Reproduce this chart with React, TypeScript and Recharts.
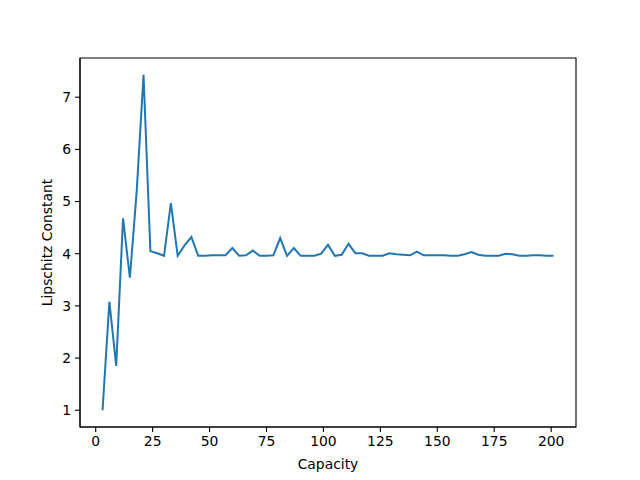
import React from 'react';
import { LineChart, Line, XAxis, YAxis, ReferenceArea } from 'recharts';

const capacity: number[] = [
  3, 6, 9, 12, 15, 18, 21, 24, 27, 30, 33, 36, 39, 42, 45, 48, 51, 54, 57, 60,
  63, 66, 69, 72, 75, 78, 81, 84, 87, 90, 93, 96, 99, 102, 105, 108, 111, 114, 117, 120,
  123, 126, 129, 132, 135, 138, 141, 144, 147, 150, 153, 156, 159, 162, 165, 168, 171, 174, 177, 180,
  183, 186, 189, 192, 195, 198, 201,
];

const lipschitz: number[] = [
  1.0, 3.08, 1.85, 4.68, 3.54, 5.2, 7.43, 4.05, 4.01, 3.96, 4.97, 3.96, 4.16, 4.32, 3.96, 3.96, 3.97, 3.97, 3.97, 4.11,
  3.96, 3.97, 4.06, 3.96, 3.96, 3.97, 4.3, 3.96, 4.11, 3.96, 3.96, 3.96, 4.0, 4.17, 3.96, 3.98, 4.19, 4.01, 4.01, 3.96,
  3.96, 3.96, 4.01, 3.99, 3.98, 3.97, 4.04, 3.97, 3.97, 3.97, 3.97, 3.96, 3.96, 3.99, 4.03, 3.98, 3.96, 3.96, 3.96, 4.0,
  3.99, 3.96, 3.96, 3.97, 3.97, 3.96, 3.96,
];

const xTicks: number[] = [0, 25, 50, 75, 100, 125, 150, 175, 200];
const yTicks: number[] = [1, 2, 3, 4, 5, 6, 7];

const X_DOMAIN: [number, number] = [-6.9, 210.9];
const Y_DOMAIN: [number, number] = [0.6785, 7.7515];

const data = capacity.map((c, i) => ({ capacity: c, value: lipschitz[i] }));

const FONT = "'DejaVu Sans', sans-serif";
const tickStyle = { fontFamily: FONT, fontSize: 13.9, fill: '#000' };

export default function App() {
  return (
    <div style={{ position: 'absolute', left: 0, top: 0, width: 640, height: 480, background: '#fff' }}>
      <LineChart
        width={640}
        height={480}
        data={data}
        margin={{ top: 58, right: 64, bottom: 0, left: 0 }}
      >
        <XAxis
          dataKey="capacity"
          type="number"
          domain={X_DOMAIN}
          ticks={xTicks}
          allowDataOverflow
          height={53}
          tick={tickStyle}
          tickSize={5}
          tickMargin={4}
          stroke="#000"
          tickLine={{ stroke: '#000', strokeWidth: 1.1 }}
          axisLine={{ stroke: '#000', strokeWidth: 1.1 }}
          label={{ value: 'Capacity', position: 'insideBottom', offset: 11, style: { fontFamily: FONT, fontSize: 13.9, fill: '#000' } }}
        />
        <YAxis
          type="number"
          domain={Y_DOMAIN}
          ticks={yTicks}
          allowDataOverflow
          width={80}
          tick={tickStyle}
          tickSize={5}
          tickMargin={4}
          tickLine={{ stroke: '#000', strokeWidth: 1.1 }}
          axisLine={{ stroke: '#000', strokeWidth: 1.1 }}
          label={{
            value: 'Lipschitz Constant',
            angle: -90,
            position: 'insideLeft',
            offset: 47,
            style: { fontFamily: FONT, fontSize: 13.9, fill: '#000', textAnchor: 'middle' },
          }}
        />
        <ReferenceArea
          x1={X_DOMAIN[0]}
          x2={X_DOMAIN[1]}
          y1={Y_DOMAIN[0]}
          y2={Y_DOMAIN[1]}
          fill="none"
          fillOpacity={0}
          stroke="#000"
          strokeWidth={1.1}
          ifOverflow="visible"
        />
        <Line
          type="linear"
          dataKey="value"
          stroke="#1f77b4"
          strokeWidth={2}
          dot={false}
          isAnimationActive={false}
        />
      </LineChart>
    </div>
  );
}
